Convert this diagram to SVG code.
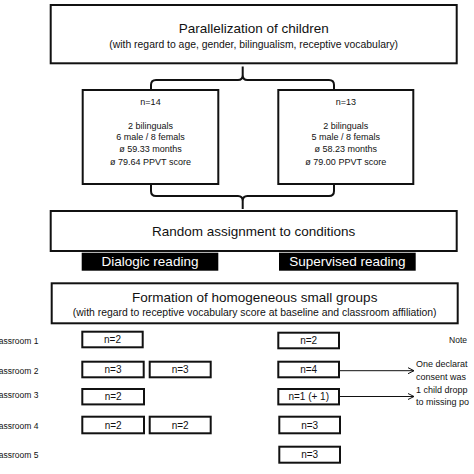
<svg xmlns="http://www.w3.org/2000/svg" width="474" height="474" viewBox="0 0 474 474">
<defs>
<style>
text{font-family:"Liberation Sans",Arial,sans-serif;fill:#111;text-anchor:middle}
.box{fill:#fff;stroke:#111;stroke-width:2}
.lbl{fill:#000}
.lt{fill:#fff;font-size:13.5px}
.t1{font-size:13.5px}
.t2{font-size:10.4px}
.t3{font-size:9px}
.n{font-size:10px}
.cl{font-size:8.5px;text-anchor:end}
.note{font-size:9px;text-anchor:start}
.notehd{font-size:8.5px;text-anchor:middle}
.br{fill:none;stroke:#111;stroke-width:2}
.ar{fill:none;stroke:#111;stroke-width:1}
</style>
<marker id="arr" markerWidth="8" markerHeight="8" refX="7" refY="4" orient="auto" markerUnits="userSpaceOnUse">
<path d="M1,1 L7,4 L1,7" fill="none" stroke="#111" stroke-width="1"/>
</marker>
</defs>
<rect width="474" height="474" fill="#fff"/>

<g id="connectors">
<path class="br" d="M151,90 L151,85 Q151,80 156,80 L238,80 Q242.7,80 242.7,75 L242.7,66.5 M242.7,75 Q242.7,80 247.4,80 L329,80 Q334,80 334,85 L334,90"/>
<path class="br" d="M151,184 L151,191 Q151,196 156,196 L238,196 Q242.7,196 242.7,201 L242.7,209 M242.7,201 Q242.7,196 247.4,196 L329,196 Q334,196 334,191 L334,184"/>
<line class="ar" x1="339" y1="370.7" x2="414" y2="370.7" marker-end="url(#arr)"/>
<line class="ar" x1="339" y1="396.5" x2="414" y2="396.5" marker-end="url(#arr)"/>
</g>

<g id="parallelization">
<rect class="box" x="50.7" y="5" width="406" height="58.3"/>
<text class="t1" x="253.7" y="33">Parallelization of children</text>
<text class="t2" x="253.7" y="48.3">(with regard to age, gender, bilingualism, receptive vocabulary)</text>
</g>

<g id="group-left">
<rect class="box" x="82.7" y="90" width="135.6" height="94"/>
<text class="t3" x="150.5" y="105">n=14</text>
<text class="t3" x="150.5" y="128.5">2 bilinguals</text>
<text class="t3" x="150.5" y="140.3">6 male / 8 femals</text>
<text class="t3" x="150.5" y="152.3">ø 59.33 months</text>
<text class="t3" x="150.5" y="164.5">ø 79.64 PPVT score</text>
</g>

<g id="group-right">
<rect class="box" x="278.3" y="90" width="135" height="94"/>
<text class="t3" x="345.8" y="105">n=13</text>
<text class="t3" x="345.8" y="128.5">2 bilinguals</text>
<text class="t3" x="345.8" y="140.3">5 male / 8 femals</text>
<text class="t3" x="345.8" y="152.3">ø 58.23 months</text>
<text class="t3" x="345.8" y="164.5">ø 79.00 PPVT score</text>
</g>

<g id="random">
<rect class="box" x="50.7" y="211" width="406" height="40"/>
<text class="t1" x="253.7" y="236.3">Random assignment to conditions</text>
</g>

<g id="dialogic">
<rect class="lbl" x="81.7" y="252.7" width="136.6" height="18"/>
<text class="lt" x="150" y="266.4">Dialogic reading</text>
</g>

<g id="supervised">
<rect class="lbl" x="279" y="252.7" width="136.7" height="18"/>
<text class="lt" x="347.3" y="266.4">Supervised reading</text>
</g>

<g id="formation">
<rect class="box" x="51.7" y="283.3" width="406" height="40"/>
<text class="t1" x="254.7" y="302">Formation of homogeneous small groups</text>
<text class="t2" x="254.7" y="316.3">(with regard to receptive vocabulary score at baseline and classroom affiliation)</text>
</g>

<g id="classroom-labels">
<text class="cl" x="38.5" y="343.7">Classroom 1</text>
<text class="cl" x="38.5" y="373.7">Classroom 2</text>
<text class="cl" x="38.5" y="398">Classroom 3</text>
<text class="cl" x="38.5" y="429">Classroom 4</text>
<text class="cl" x="38.5" y="458">Classroom 5</text>
</g>

<g id="dr-c1"><rect class="box" x="82.3" y="331.7" width="60.4" height="15.6"/><text class="n" x="112.5" y="343">n=2</text></g>
<g id="dr-c2a"><rect class="box" x="82.3" y="361.7" width="61.4" height="15.6"/><text class="n" x="113" y="373">n=3</text></g>
<g id="dr-c2b"><rect class="box" x="149.7" y="361.7" width="61" height="15.6"/><text class="n" x="180.2" y="373">n=3</text></g>
<g id="dr-c3"><rect class="box" x="82.3" y="389" width="61.7" height="15.4"/><text class="n" x="113.2" y="400.2">n=2</text></g>
<g id="dr-c4a"><rect class="box" x="82.3" y="416.7" width="61.7" height="16.6"/><text class="n" x="113.2" y="428.5">n=2</text></g>
<g id="dr-c4b"><rect class="box" x="149.7" y="416.7" width="61" height="16.6"/><text class="n" x="180.2" y="428.5">n=2</text></g>

<g id="sr-c1"><rect class="box" x="278.3" y="332.7" width="60.7" height="15.6"/><text class="n" x="308.7" y="344">n=2</text></g>
<g id="sr-c2"><rect class="box" x="278.3" y="361.7" width="60.7" height="15.6"/><text class="n" x="308.7" y="373">n=4</text></g>
<g id="sr-c3"><rect class="box" x="278.3" y="389" width="60.7" height="15.4"/><text class="n" x="308.7" y="400.2">n=1 (+ 1)</text></g>
<g id="sr-c4"><rect class="box" x="279.3" y="416.7" width="60.7" height="16.6"/><text class="n" x="309.7" y="428.5">n=3</text></g>
<g id="sr-c5"><rect class="box" x="279.3" y="446.7" width="60.7" height="16"/><text class="n" x="309.7" y="458.2">n=3</text></g>

<g id="notes">
<text class="notehd" x="458" y="343">Note</text>
<text class="note" x="416" y="367">One declarat</text>
<text class="note" x="416" y="379.5">consent was</text>
<text class="note" x="416" y="393">1 child dropp</text>
<text class="note" x="416" y="405">to missing po</text>
</g>
</svg>
